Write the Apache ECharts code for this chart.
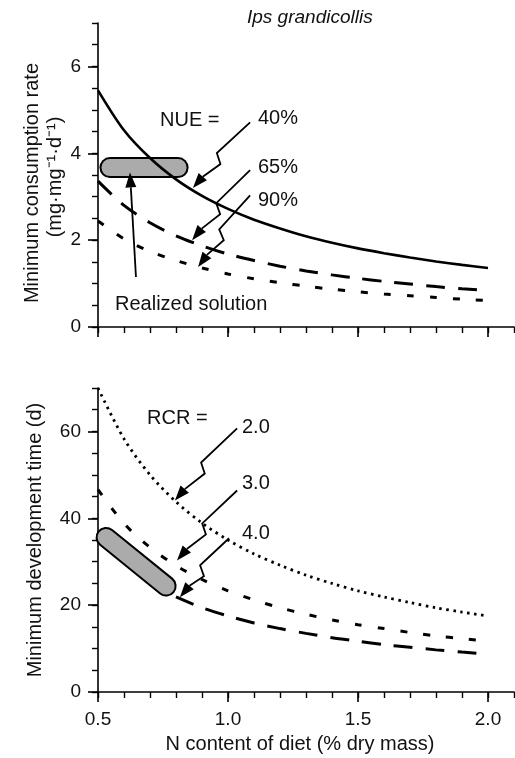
<!DOCTYPE html>
<html>
<head>
<meta charset="utf-8">
<script src="https://cdn.jsdelivr.net/npm/echarts@6/dist/echarts.min.js"></script>
<style>
  html, body { margin: 0; padding: 0; background: #fff; }
  #chart { width: 515px; height: 758px; }
</style>
</head>
<body>
<div id="chart"></div>
<script>
// N content of diet (% dry mass)
const nContent = [0.5, 0.6, 0.7, 0.8, 0.9, 1.0, 1.1, 1.2, 1.3, 1.4, 1.5, 1.6, 1.7, 1.8, 1.9, 2.0];
// minimum consumption rate, by NUE
const nue40 = [5.45, 4.53, 3.89, 3.40, 3.02, 2.72, 2.47, 2.27, 2.09, 1.94, 1.81, 1.70, 1.60, 1.51, 1.43, 1.36];
const nue65 = [3.36, 2.80, 2.40, 2.10, 1.87, 1.68, 1.53, 1.40, 1.29, 1.20, 1.12, 1.05, 0.99, 0.93, 0.88, 0.84];
const nue90 = [2.44, 2.03, 1.74, 1.53, 1.36, 1.22, 1.11, 1.02, 0.94, 0.87, 0.81, 0.76, 0.72, 0.68, 0.64, 0.61];
// minimum development time, by RCR
const rcr2 = [70.0, 58.3, 50.0, 43.8, 38.9, 35.0, 31.8, 29.2, 26.9, 25.0, 23.3, 21.9, 20.6, 19.4, 18.4, 17.5];
const rcr3 = [46.6, 38.8, 33.3, 29.1, 25.9, 23.3, 21.2, 19.4, 17.9, 16.6, 15.5, 14.6, 13.7, 12.9, 12.3, 11.7];
const nContentRcr4 = [0.8, 0.9, 1.0, 1.1, 1.2, 1.3, 1.4, 1.5, 1.6, 1.7, 1.8, 1.9, 2.0];
const rcr4 = [21.9, 19.4, 17.5, 15.9, 14.6, 13.5, 12.5, 11.7, 10.9, 10.3, 9.7, 9.2, 8.75];
// realized solution (ends of the shaded bar)
const realizedTop = [[0.546, 3.67], [0.808, 3.67]];
const realizedBottom = [[0.531, 35.6], [0.762, 24.4]];
// arrows: x0, y0, x1 (tip), y1 (tip), zigzag
const arrowsTop = [[1.085, 4.71, 0.865, 3.20, 1], [1.085, 3.61, 0.862, 2.00, 1], [1.085, 3.03, 0.885, 1.38, 1], [0.646, 1.15, 0.623, 3.56, 0]];
const arrowsBottom = [[1.035, 60.7, 0.796, 44.1, 1], [1.035, 46.4, 0.804, 30.3, 1], [1.004, 35.4, 0.815, 21.8, 1]];
// tick labels
const xTickLabels = [0.5, 1.0, 1.5, 2.0];
const xMinorTicks = 0.1;
const yTopTickLabels = [0, 2, 4, 6];
const yBottomTickLabels = [0, 20, 40, 60];

const FONT = "'Liberation Sans', Arial, Helvetica, sans-serif";
const INK = "#111";

const chart = echarts.init(document.getElementById("chart"), null, { renderer: "canvas" });

function pairs(xs, ys) {
  return xs.map((x, i) => [x, ys[i]]);
}

// arrow with a little lightning jog half way
function renderArrow(params, api) {
  const s = api.coord([api.value(0), api.value(1)]);
  const t = api.coord([api.value(2), api.value(3)]);
  const zig = api.value(4);
  const dx = t[0] - s[0], dy = t[1] - s[1];
  const len = Math.sqrt(dx * dx + dy * dy);
  const ux = dx / len, uy = dy / len;
  const nx = -uy, ny = ux;
  const head = 15, half = 5.5;
  const base = [t[0] - ux * head, t[1] - uy * head];
  let pts = [s];
  if (zig) {
    const m = [s[0] + ux * len * 0.55, s[1] + uy * len * 0.55];
    pts.push([m[0] + nx * 5 - ux * 3, m[1] + ny * 5 - uy * 3]);
    pts.push([m[0] - nx * 5 + ux * 3, m[1] - ny * 5 + uy * 3]);
  }
  pts.push(base);
  return {
    type: "group",
    children: [
      { type: "polyline", shape: { points: pts }, style: { stroke: "#000", lineWidth: 1.8, fill: null } },
      {
        type: "polygon",
        shape: { points: [t, [base[0] + nx * half, base[1] + ny * half], [base[0] - nx * half, base[1] - ny * half]] },
        style: { fill: "#000" }
      }
    ]
  };
}

function minorX(gridIndex) {
  return {
    type: "value", gridIndex, position: "bottom", min: 0.5, max: 2.1, interval: xMinorTicks,
    axisLine: { show: true, onZero: false, lineStyle: { color: "#000", width: 1.6 } },
    axisTick: { show: true, length: 6, lineStyle: { color: "#000", width: 1.4 } },
    axisLabel: { show: false }, splitLine: { show: false }
  };
}
function majorX(gridIndex, labels) {
  return {
    type: "value", gridIndex, position: "bottom", min: 0.5, max: 2.1,
    axisLine: { show: false, onZero: false },
    axisTick: { show: true, length: 10, customValues: xTickLabels, lineStyle: { color: "#000", width: 1.6 } },
    axisLabel: {
      show: labels, customValues: xTickLabels, margin: 18, color: INK, fontSize: 19, fontFamily: FONT,
      formatter: v => v.toFixed(1)
    },
    splitLine: { show: false }
  };
}
function minorY(gridIndex, max, interval) {
  return {
    type: "value", gridIndex, position: "left", min: 0, max, interval,
    axisLine: { show: true, onZero: false, lineStyle: { color: "#000", width: 1.6 } },
    axisTick: { show: true, length: 6, lineStyle: { color: "#000", width: 1.4 } },
    axisLabel: { show: false }, splitLine: { show: false }
  };
}
function majorY(gridIndex, max, ticks) {
  return {
    type: "value", gridIndex, position: "left", min: 0, max,
    axisLine: { show: false, onZero: false },
    axisTick: { show: true, length: 10, customValues: ticks, lineStyle: { color: "#000", width: 1.6 } },
    axisLabel: { show: true, customValues: ticks, margin: 17, color: INK, fontSize: 19, fontFamily: FONT },
    splitLine: { show: false }
  };
}

function curve(name, xs, ys, xi, type, width) {
  return {
    name, type: "line", xAxisIndex: xi, yAxisIndex: xi, data: pairs(xs, ys),
    smooth: 0.3, symbol: "none", silent: true,
    lineStyle: { color: "#000", width, type }, z: 3
  };
}
function bar(data, xi, width, color, z) {
  return {
    type: "line", xAxisIndex: xi, yAxisIndex: xi, data, symbol: "none", clip: false, silent: true,
    lineStyle: { color, width, cap: "round" }, z
  };
}

function label(text, x, y, extra) {
  return {
    type: "text", x, y,
    style: Object.assign({ text, fill: INK, font: "20px " + FONT, align: "left", verticalAlign: "middle" }, extra || {})
  };
}

const option = {
  animation: false,
  backgroundColor: "#fff",
  grid: [
    { left: 98, right: 1, top: 23, height: 304 },
    { left: 98, right: 1, top: 388, height: 304 }
  ],
  xAxis: [minorX(0), majorX(0, false), minorX(1), majorX(1, true)],
  yAxis: [minorY(0, 7, 0.5), majorY(0, 7, yTopTickLabels), minorY(1, 70, 5), majorY(1, 70, yBottomTickLabels)],
  series: [
    bar(realizedTop, 0, 21, "#000", 1),
    bar(realizedTop, 0, 17, "#ababab", 2),
    curve("NUE 40%", nContent, nue40, 0, "solid", 2.6),
    curve("NUE 65%", nContent, nue65, 0, [19, 13], 3),
    curve("NUE 90%", nContent, nue90, 0, [7, 16], 3),
    { type: "custom", xAxisIndex: 0, yAxisIndex: 0, data: arrowsTop, renderItem: renderArrow, clip: false, silent: true, z: 5 },

    bar(realizedBottom, 2, 21, "#000", 1),
    bar(realizedBottom, 2, 17, "#ababab", 2),
    curve("RCR 2.0", nContent, rcr2, 2, [2.5, 4.5], 2.8),
    curve("RCR 3.0", nContent, rcr3, 2, [7, 16], 3),
    curve("RCR 4.0", nContentRcr4, rcr4, 2, [19, 13], 3),
    { type: "custom", xAxisIndex: 2, yAxisIndex: 2, data: arrowsBottom, renderItem: renderArrow, clip: false, silent: true, z: 5 }
  ],
  graphic: [
    label("Ips grandicollis", 247, 18, { font: "italic 19px " + FONT }),
    label("NUE =", 160, 120),
    label("40%", 258, 118),
    label("65%", 258, 167),
    label("90%", 258, 200),
    label("Realized solution", 115, 304),
    label("RCR =", 147, 418),
    label("2.0", 242, 427),
    label("3.0", 242, 483),
    label("4.0", 242, 533),
    { type: "text", x: 32, y: 183, rotation: Math.PI / 2,
      style: { text: "Minimum consumption rate", fill: INK, font: "20px " + FONT, align: "center", verticalAlign: "middle" } },
    { type: "text", x: 55, y: 177, rotation: Math.PI / 2,
      style: { text: "(mg·mg⁻¹·d⁻¹)", fill: INK, font: "20px " + FONT, align: "center", verticalAlign: "middle" } },
    { type: "text", x: 35, y: 540, rotation: Math.PI / 2,
      style: { text: "Minimum development time (d)", fill: INK, font: "20px " + FONT, align: "center", verticalAlign: "middle" } },
    { type: "text", x: 300, y: 744,
      style: { text: "N content of diet (% dry mass)", fill: INK, font: "20px " + FONT, align: "center", verticalAlign: "middle" } }
  ]
};

chart.setOption(option);
</script>
</body>
</html>
